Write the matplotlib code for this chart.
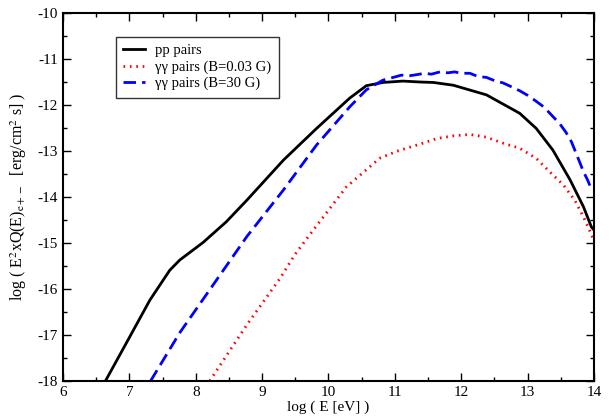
import matplotlib.pyplot as plt
from matplotlib.ticker import MultipleLocator

plt.rcParams['font.family'] = ['Liberation Serif', 'DejaVu Serif']
plt.rcParams['mathtext.fontset'] = 'stix'
plt.rcParams['axes.unicode_minus'] = False

# pp pairs (solid black)
pp_x = [6.64, 7.01, 7.31, 7.61, 7.76, 8.11, 8.46, 8.77, 9.32, 9.82, 10.32,
        10.57, 10.82, 11.12, 11.38, 11.58, 11.88, 12.38, 12.88, 13.13, 13.38,
        13.64, 13.84, 13.96, 14.0]
pp_y = [-18.0, -17.03, -16.24, -15.59, -15.37, -14.99, -14.54, -14.07, -13.2,
        -12.51, -11.85, -11.58, -11.51, -11.48, -11.5, -11.51, -11.57, -11.78,
        -12.18, -12.51, -12.98, -13.63, -14.21, -14.65, -14.72]

# gamma-gamma pairs, B=0.03 G (red dotted)
gg1_x = [8.21, 8.77, 9.27, 9.49, 9.77, 10.27, 10.77, 11.02, 11.38, 11.63,
         11.88, 12.13, 12.38, 12.63, 12.88, 13.13, 13.33, 13.54, 13.71, 13.84,
         13.94, 14.0]
gg1_y = [-18.0, -16.78, -15.77, -15.26, -14.72, -13.78, -13.16, -13.01,
         -12.85, -12.73, -12.67, -12.64, -12.7, -12.83, -12.94, -13.16, -13.45,
         -13.74, -14.07, -14.43, -14.75, -14.95]

# gamma-gamma pairs, B=30 G (blue dashed, slightly noisy at high energy)
gg2_x = [7.32, 7.76, 8.77, 9.32, 9.82, 10.32, 10.57, 10.82, 11.0, 11.1, 11.2,
         11.33, 11.45, 11.55, 11.68, 11.8, 11.9, 12.0, 12.13, 12.25, 12.38,
         12.5, 12.63, 12.75, 12.88, 13.0, 13.13, 13.25, 13.38, 13.48, 13.58,
         13.66, 13.73, 13.8, 13.84, 13.9, 13.94, 14.0]
gg2_y = [-18.0, -16.95, -14.86, -13.85, -12.87, -12.04, -11.67, -11.46, -11.39,
         -11.35, -11.37, -11.34, -11.31, -11.33, -11.28, -11.3, -11.28, -11.31,
         -11.31, -11.38, -11.4, -11.47, -11.52, -11.6, -11.69, -11.79, -11.92,
         -12.05, -12.25, -12.4, -12.6, -12.8, -13.05, -13.3, -13.45, -13.62,
         -13.76, -13.82]

fig = plt.figure(figsize=(6.09, 4.2), dpi=100)
ax = fig.add_axes([0.1034, 0.093, 0.872, 0.876])

ax.plot(pp_x, pp_y, color='black', lw=2.0, label='pp pairs')
ax.plot(gg1_x, gg1_y, color='red', lw=2.0, linestyle=(0, (0.6, 1.7)),
        label='\u03b3\u03b3 pairs (B=0.03 G)')
ax.plot(gg2_x, gg2_y, color='blue', lw=2.0, linestyle=(0, (4.5, 2.2)),
        label='\u03b3\u03b3 pairs (B=30 G)')

ax.set_xlim(6, 14)
ax.set_ylim(-18, -10)
ax.xaxis.set_major_locator(MultipleLocator(1))
ax.xaxis.set_minor_locator(MultipleLocator(0.5))
ax.yaxis.set_major_locator(MultipleLocator(1))
ax.yaxis.set_minor_locator(MultipleLocator(0.5))
ax.tick_params(which='both', direction='in', top=True, right=True,
               labelsize=11, width=1.0)
ax.tick_params(which='major', length=6)
ax.tick_params(which='minor', length=3)
for s in ax.spines.values():
    s.set_linewidth(1.5)

ax.set_xlabel('log ( E [eV] )', fontsize=11, labelpad=1)
ax.set_ylabel(r'log ( E$^2$xQ(E)$_{\mathrm{e+-}}$  [erg/cm$^2$ s] )',
              fontsize=11.5, labelpad=6)

leg = ax.legend(loc='upper left', bbox_to_anchor=(0.1, 0.935), fontsize=10.5,
                frameon=True, fancybox=False, edgecolor='black',
                borderaxespad=0, handlelength=1.5, handletextpad=0.7,
                borderpad=0.5, labelspacing=0.2)
leg.get_frame().set_linewidth(1.0)

fig.savefig('out.png', dpi=100)
